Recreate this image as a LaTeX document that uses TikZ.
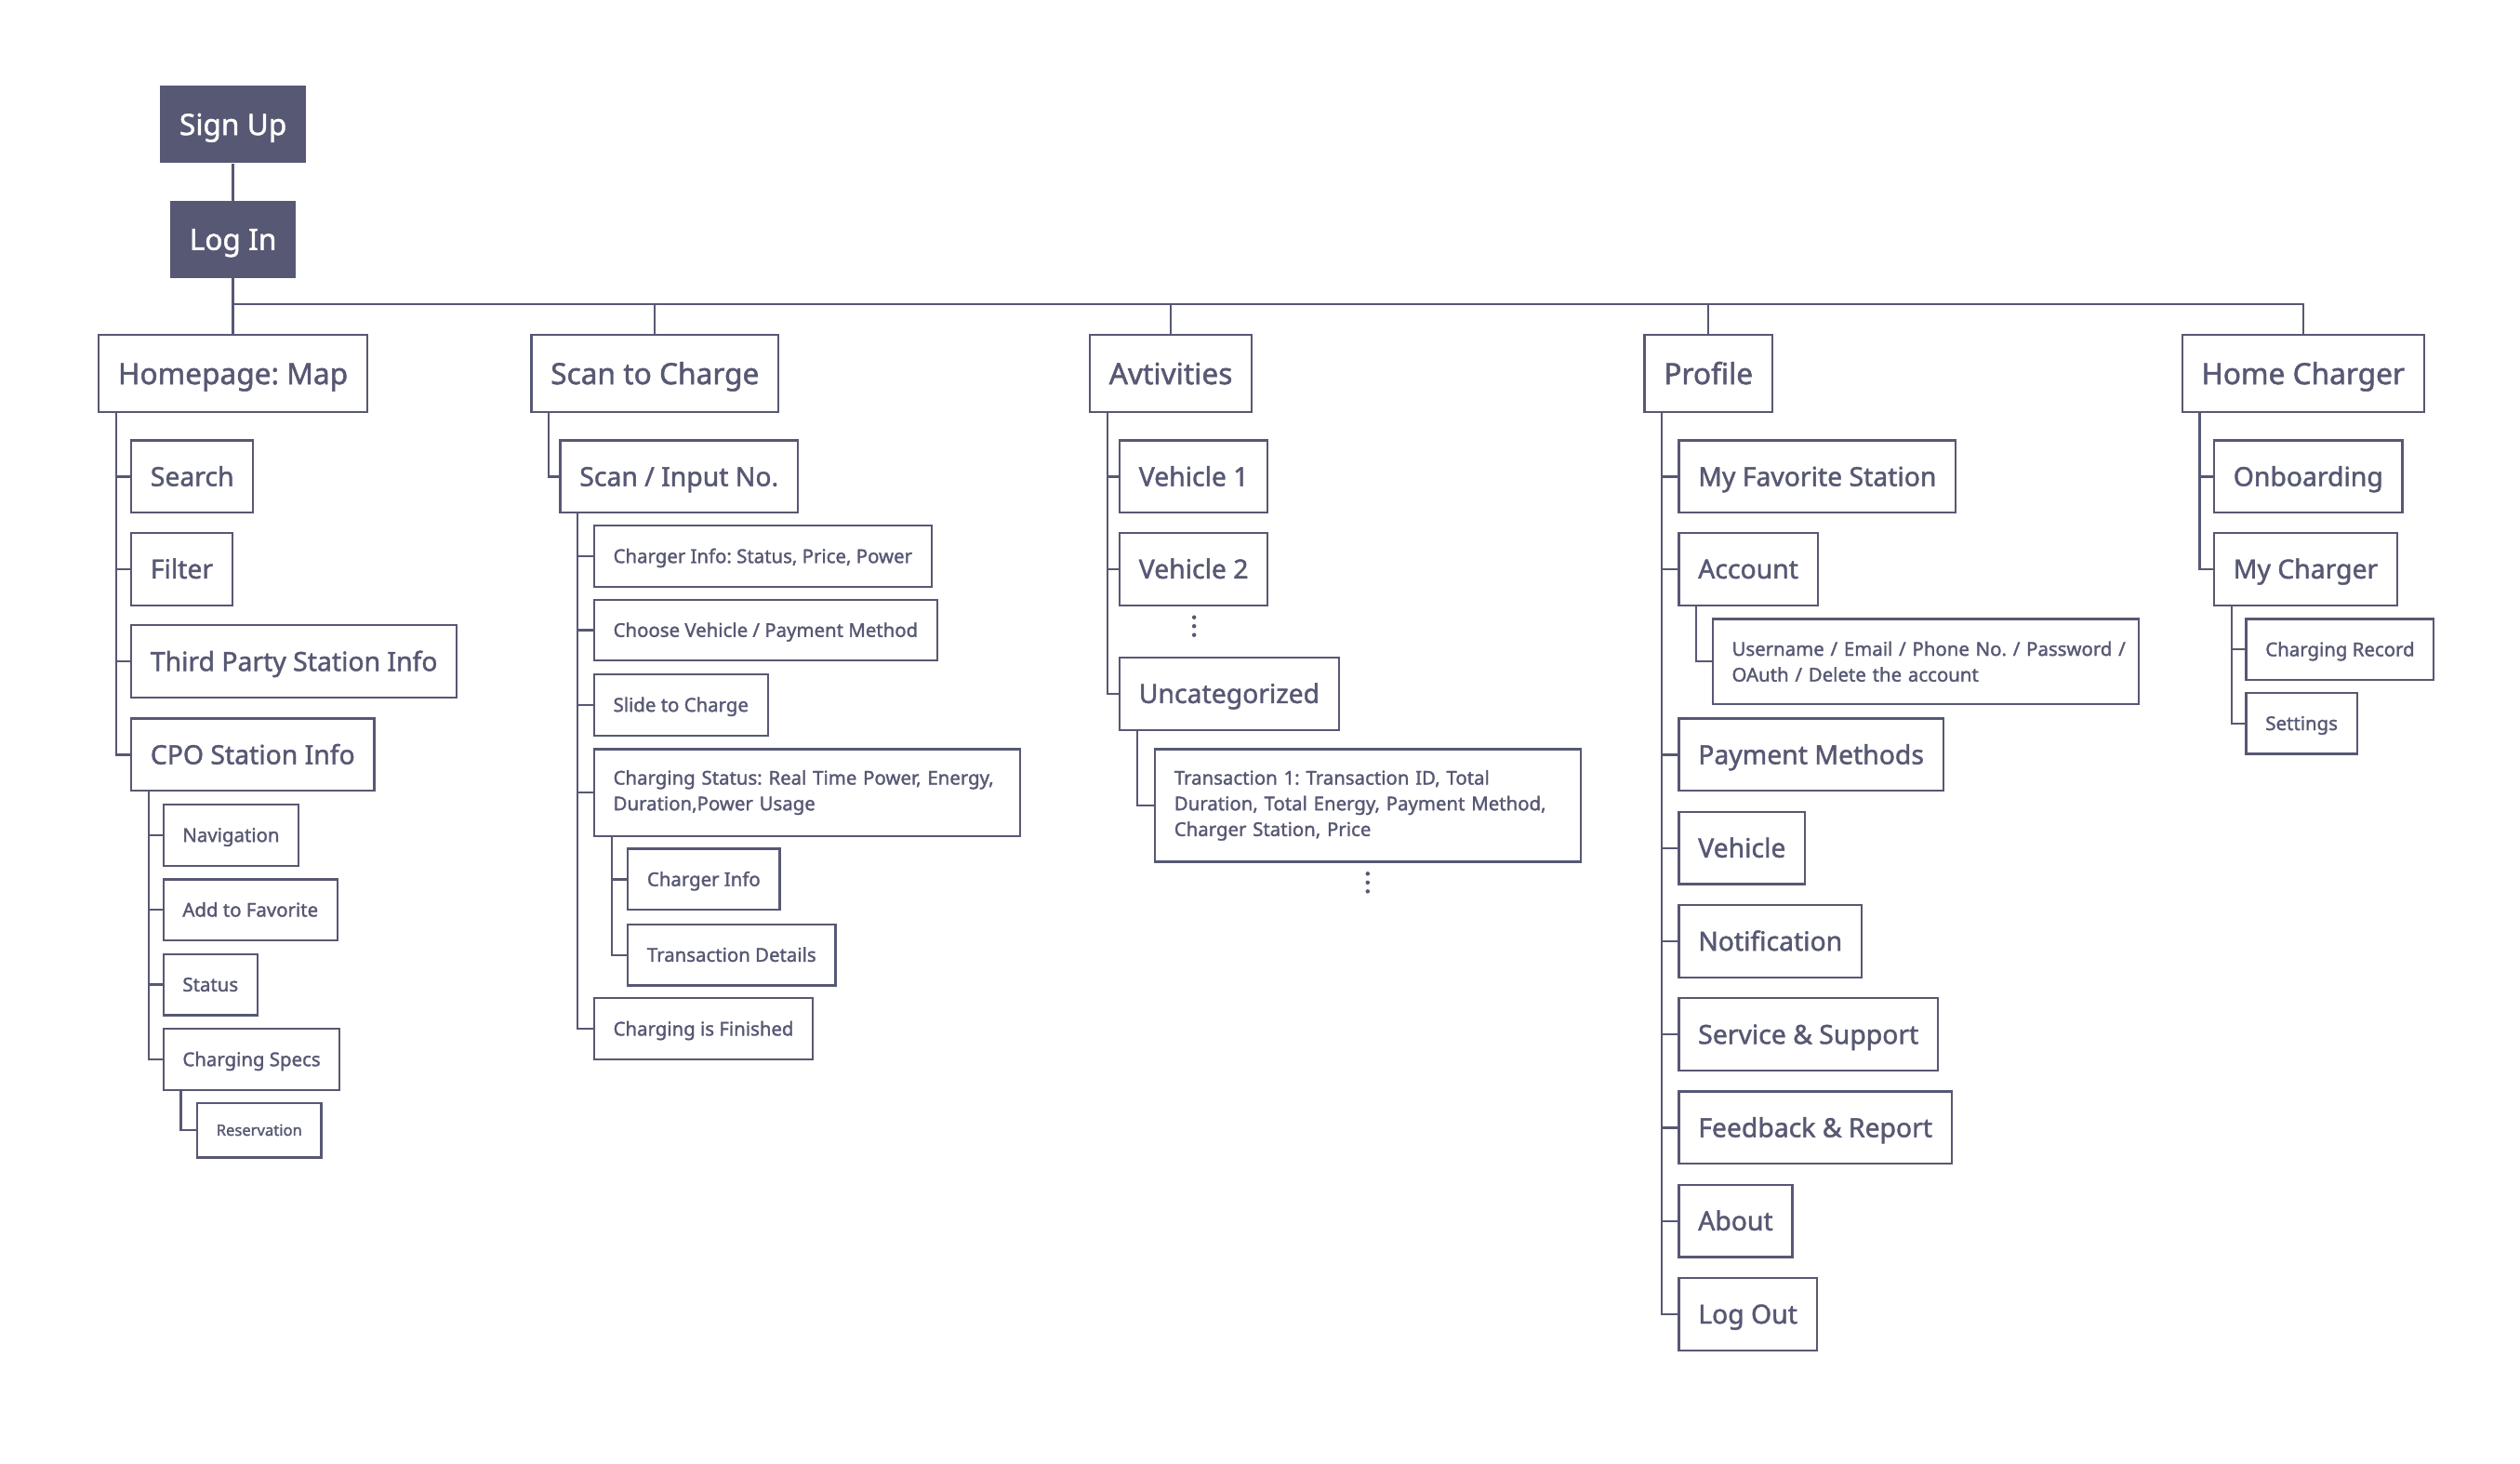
\documentclass[tikz,border=0pt]{standalone}
\usepackage{fontspec}
\setmainfont{Noto Sans}[FakeBold=1.5]
\frenchspacing
\hyphenpenalty=10000
\definecolor{ink}{HTML}{575873}
\tikzset{
  box/.style={draw=ink, line width=1.3pt, fill=white, text=ink, inner xsep=12pt, inner ysep=0pt, anchor=west},
  top/.style={box, anchor=center, minimum height=48pt, font=\fontsize{18.3}{22}\selectfont, text height=13pt, text depth=0pt},
  sub/.style={box, minimum height=45pt, font=\fontsize{16.4}{20}\selectfont, text height=11.7pt, text depth=0pt},
  leaf/.style={box, minimum height=38pt, font=\fontsize{11.8}{16}\selectfont, text height=8.4pt, text depth=0pt},
  tiny/.style={box, minimum height=34pt, font=\fontsize{9.6}{12}\selectfont, text height=6.9pt, text depth=0pt},
  note/.style={box, align=left, text width=241pt, font=\fontsize{11.8}{16}\selectfont},
  auth/.style={fill=ink, text=white, inner xsep=12pt, inner ysep=0pt, minimum height=48pt, font=\fontsize{18.3}{22}\selectfont, text height=13pt, text depth=0pt},
  link/.style={draw=ink, line width=1.3pt},
}
\begin{document}
\begin{tikzpicture}[x=1pt,y=-1pt]
  \useasboundingbox (0,0) rectangle (1568,910.7);
  % entry
  \node[auth] (signup) at (145,77.5) {Sign Up};
  \node[auth] (login) at (145,149) {Log In};
  \coordinate (bus) at (145,189);
  % homepage
  \node[top] (home) at (145,232.5) {Homepage: Map};
  \node[sub] (search) at (81,296.5) {Search};
  \node[sub] (filter) at (81,354) {Filter};
  \node[sub] (third) at (81,411.5) {Third Party Station Info};
  \node[sub] (cpo) at (81,469.5) {CPO Station Info};
  \node[leaf] (nav) at (101,519.5) {Navigation};
  \node[leaf] (fav) at (101,566) {Add to Favorite};
  \node[leaf] (status) at (101,612.5) {Status};
  \node[leaf] (specs) at (101,659) {Charging Specs};
  \node[tiny] (resv) at (122,703) {Reservation};
  % scan to charge
  \node[top] (scan) at (407.5,232.5) {Scan to Charge};
  \node[sub] (input) at (348,296.5) {Scan / Input No.};
  \node[leaf] (cinfo) at (369,346) {Charger Info: Status, Price, Power};
  \node[leaf] (choose) at (369,392) {Choose Vehicle / Payment Method};
  \node[leaf] (slide) at (369,438.5) {Slide to Charge};
  \node[note, minimum height=54pt] (cstat) at (369,493) {Charging Status: Real Time Power, Energy,\\Duration,Power Usage};
  \node[leaf] (info) at (390,547) {Charger Info};
  \node[leaf] (trans) at (390,594) {Transaction Details};
  \node[leaf] (done) at (369,640) {Charging is Finished};
  % activities
  \node[top] (act) at (728.5,232.5) {Avtivities};
  \node[sub] (veh1) at (696,296.5) {Vehicle 1};
  \node[sub] (veh2) at (696,354) {Vehicle 2};
  \node[sub] (uncat) at (696,431.5) {Uncategorized};
  \node[note, minimum height=70pt] (tx) at (718,501) {Transaction 1: Transaction ID, Total\\Duration, Total Energy, Payment Method,\\Charger Station, Price};
  \foreach \d in {-5.5,0,5.5} {
    \fill[ink] (743,389.5+\d) circle (1.3);
    \fill[ink] (851,549+\d) circle (1.3);
  }
  % profile
  \node[top] (prof) at (1063,232.5) {Profile};
  \node[sub] (mfav) at (1044,296.5) {My Favorite Station};
  \node[sub] (acct) at (1044,354) {Account};
  \node[note, minimum height=53pt] (user) at (1065,411.5) {\mbox{Username / Email / Phone No. / Password /}\\OAuth / Delete the account};
  \node[sub] (pay) at (1044,469.5) {Payment Methods};
  \node[sub] (pveh) at (1044,527.5) {Vehicle};
  \node[sub] (notif) at (1044,585.5) {Notification};
  \node[sub] (serv) at (1044,643.5) {Service \& Support};
  \node[sub] (feed) at (1044,701.5) {Feedback \& Report};
  \node[sub] (about) at (1044,759.5) {About};
  \node[sub] (logout) at (1044,817.5) {Log Out};
  % home charger
  \node[top] (hc) at (1433,232.5) {Home Charger};
  \node[sub] (onb) at (1377,296.5) {Onboarding};
  \node[sub] (mych) at (1377,354) {My Charger};
  \node[leaf] (rec) at (1397,404) {Charging Record};
  \node[leaf] (set) at (1397,450) {Settings};
  % links
  \draw[link] (signup) -- (login);
  \draw[link] (login) -- (home);
  \foreach \t in {scan,act,prof,hc} \draw[link] (bus) -| (\t.north);
  \foreach \c in {search,filter,third,cpo} \draw[link] (home.south west) ++(11.5,0) |- (\c.west);
  \foreach \c in {nav,fav,status,specs} \draw[link] (cpo.south west) ++(11.5,0) |- (\c.west);
  \draw[link] (specs.south west) ++(11.5,0) |- (resv.west);
  \draw[link] (scan.south west) ++(11.5,0) |- (input.west);
  \foreach \c in {cinfo,choose,slide,cstat,done} \draw[link] (input.south west) ++(11.5,0) |- (\c.west);
  \foreach \c in {info,trans} \draw[link] (cstat.south west) ++(11.5,0) |- (\c.west);
  \foreach \c in {veh1,veh2,uncat} \draw[link] (act.south west) ++(11.5,0) |- (\c.west);
  \draw[link] (uncat.south west) ++(11.5,0) |- (tx.west);
  \foreach \c in {mfav,acct,pay,pveh,notif,serv,feed,about,logout} \draw[link] (prof.south west) ++(11.5,0) |- (\c.west);
  \draw[link] (acct.south west) ++(11.5,0) |- (user.west);
  \foreach \c in {onb,mych} \draw[link] (hc.south west) ++(11.5,0) |- (\c.west);
  \foreach \c in {rec,set} \draw[link] (mych.south west) ++(11.5,0) |- (\c.west);
\end{tikzpicture}
\end{document}
